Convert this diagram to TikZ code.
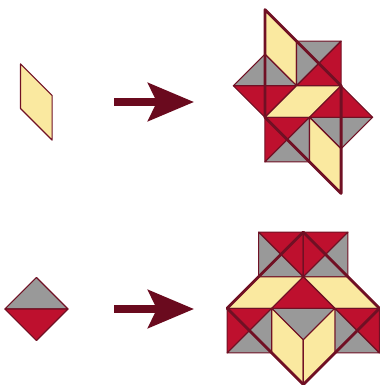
\documentclass[tikz,border=0pt]{standalone}
\usepackage{tikz}
\usepackage{xcolor}
\usetikzlibrary{arrows.meta}
\definecolor{tileyellow}{RGB}{250,233,160}
\definecolor{tilered}{RGB}{190,16,46}
\definecolor{tilegrey}{RGB}{153,153,153}
\definecolor{tileedge}{RGB}{112,16,36}
\definecolor{arrowred}{RGB}{106,10,30}

\tikzset{
  rhomb/.style={fill=tileyellow, draw=tileedge, line width=0.7pt, line join=round},
  redhalf/.style={fill=tilered, draw=tileedge, line width=0.7pt, line join=round},
  greyhalf/.style={fill=tilegrey, draw=tileedge, line width=0.7pt, line join=round},
  superedge/.style={draw=tileedge, line width=1.8pt, line join=round},
  bigarrow/.style={draw=arrowred, line width=0.18cm, -{Stealth[length=1.03cm, width=0.85cm, inset=0.2cm]}}
}

\begin{document}
\begin{tikzpicture}
    \useasboundingbox (0,0) rectangle (8.520,-8.632);
    \coordinate (rhombc) at (0.814,-2.287);
    \coordinate (rhombsub) at (6.794,-2.276);
    \coordinate (sqc) at (0.818,-6.928);
    \coordinate (sqsub) at (6.800,-6.913);
    \coordinate (arr1a) at (2.556,-2.287);
    \coordinate (arr1b) at (4.350,-2.287);
    \coordinate (arr2a) at (2.556,-6.928);
    \coordinate (arr2b) at (4.350,-6.928);

    % single rhombus
    \begin{scope}[shift={(rhombc)}]
        \draw[rhomb] (-0.354,0.854) -- (0.354,0.146) -- (0.354,-0.854) -- (-0.354,-0.146) -- cycle;
    \end{scope}

    % single square
    \begin{scope}[shift={(sqc)}]
        \draw[greyhalf] (-0.707,0) -- (0,0.707) -- (0.707,0) -- cycle;
        \draw[redhalf] (-0.707,0) -- (0.707,0) -- (0,-0.707) -- cycle;
    \end{scope}

    \draw[bigarrow] (arr1a) -- (arr1b);
    \draw[bigarrow] (arr2a) -- (arr2b);

    % inflated rhombus
    \begin{scope}[shift={(rhombsub)}]
        \draw[rhomb] (-0.854,2.061) -- (-0.146,1.354) -- (-0.146,0.354) -- (-0.854,1.061) -- cycle;
        \draw[greyhalf] (-0.146,1.354) -- (0.854,1.354) -- (-0.146,0.354) -- cycle;
        \draw[redhalf] (0.854,1.354) -- (0.854,0.354) -- (-0.146,0.354) -- cycle;
        \draw[greyhalf] (-1.561,0.354) -- (-0.854,1.061) -- (-0.146,0.354) -- cycle;
        \draw[redhalf] (-1.561,0.354) -- (-0.146,0.354) -- (-0.854,-0.354) -- cycle;
        \draw[rhomb] (-0.854,-0.354) -- (-0.146,0.354) -- (0.854,0.354) -- (0.146,-0.354) -- cycle;
        \draw[redhalf] (0.146,-0.354) -- (0.854,0.354) -- (1.561,-0.354) -- cycle;
        \draw[greyhalf] (0.146,-0.354) -- (1.561,-0.354) -- (0.854,-1.061) -- cycle;
        \draw[redhalf] (-0.854,-0.354) -- (0.146,-0.354) -- (-0.854,-1.354) -- cycle;
        \draw[greyhalf] (0.146,-0.354) -- (0.146,-1.354) -- (-0.854,-1.354) -- cycle;
        \draw[rhomb] (0.146,-0.354) -- (0.854,-1.061) -- (0.854,-2.061) -- (0.146,-1.354) -- cycle;
        \draw[superedge] (-0.854,2.061) -- (0.854,0.354) -- (0.854,-2.061) -- (-0.854,-0.354) -- cycle;
    \end{scope}

    % inflated square
    \begin{scope}[shift={(sqsub)}]
        \draw[redhalf] (-1,1.707) -- (0,1.707) -- (0,0.707) -- cycle;
        \draw[greyhalf] (-1,1.707) -- (0,0.707) -- (-1,0.707) -- cycle;
        \draw[redhalf] (0,1.707) -- (1,1.707) -- (0,0.707) -- cycle;
        \draw[greyhalf] (1,1.707) -- (1,0.707) -- (0,0.707) -- cycle;
        \draw[rhomb] (-1.707,0) -- (-1,0.707) -- (0,0.707) -- (-0.707,0) -- cycle;
        \draw[rhomb] (0,0.707) -- (1,0.707) -- (1.707,0) -- (0.707,0) -- cycle;
        \draw[redhalf] (0,0.707) -- (0.707,0) -- (-0.707,0) -- cycle;
        \draw[greyhalf] (-0.707,0) -- (0.707,0) -- (0,-0.707) -- cycle;
        \draw[redhalf] (-1.707,0) -- (-0.707,0) -- (-1.707,-1) -- cycle;
        \draw[greyhalf] (-0.707,0) -- (-0.707,-1) -- (-1.707,-1) -- cycle;
        \draw[redhalf] (0.707,0) -- (1.707,0) -- (1.707,-1) -- cycle;
        \draw[greyhalf] (0.707,0) -- (1.707,-1) -- (0.707,-1) -- cycle;
        \draw[rhomb] (-0.707,0) -- (0,-0.707) -- (0,-1.707) -- (-0.707,-1) -- cycle;
        \draw[rhomb] (0,-0.707) -- (0.707,0) -- (0.707,-1) -- (0,-1.707) -- cycle;
        \draw[superedge] (0,1.707) -- (1.707,0) -- (0,-1.707) -- (-1.707,0) -- cycle;
    \end{scope}
\end{tikzpicture}
\end{document}
